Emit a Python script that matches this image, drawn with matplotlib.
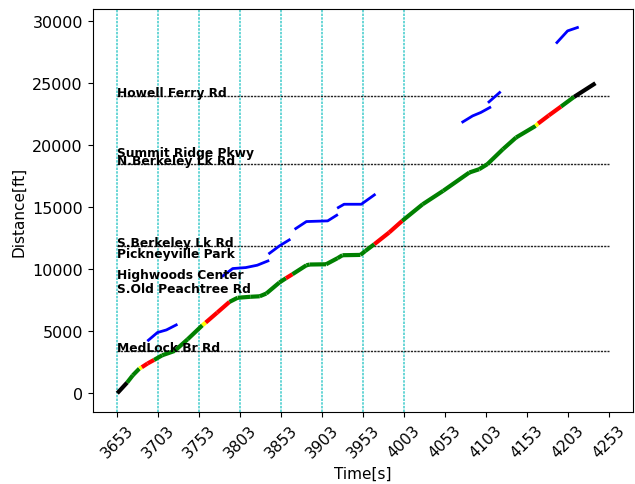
import matplotlib
matplotlib.use("Agg")
import matplotlib.pyplot as plt
import numpy as np

# main vehicle trajectory, with signal state for each piece starting at that point
main_t = [3653, 3665, 3672, 3680, 3683, 3690, 3698, 3708, 3723, 3739, 3757, 3761, 3775,
          3790, 3800, 3816, 3827, 3835, 3851, 3859, 3867, 3884, 3888, 3908, 3922, 3928,
          3950, 3956, 3967, 3985, 4001, 4026, 4051, 4083, 4095, 4105, 4124, 4140, 4164,
          4167, 4180, 4195, 4211, 4237]
main_d = [0, 860, 1450, 1990, 2100, 2400, 2690, 3065, 3410, 4355, 5485, 5700, 6500,
          7365, 7700, 7780, 7820, 8040, 8930, 9275, 9600, 10320, 10380, 10400, 10890, 11130,
          11155, 11475, 12020, 12960, 13900, 15240, 16320, 17800, 18065, 18470, 19680, 20620, 21560,
          21750, 22400, 23120, 23900, 25000]
main_state = ['k', 'g', 'g', 'y', 'r', 'r', 'g', 'g', 'g', 'g', 'y', 'r', 'r',
              'g', 'g', 'g', 'g', 'g', 'g', 'r', 'g', 'g', 'g', 'g', 'g', 'g',
              'g', 'g', 'r', 'r', 'g', 'g', 'g', 'g', 'g', 'g', 'g', 'g', 'y',
              'r', 'r', 'g', 'k', 'k']

# other vehicle traces
other_t = [[3691, 3702, 3713, 3725],
           [3782, 3794, 3810, 3824, 3837],
           [3839, 3851, 3863],
           [3871, 3884, 3910, 3921],
           [3923, 3930, 3951, 3967],
           [4075, 4087, 4097, 4108],
           [4107, 4120],
           [4190, 4203, 4215]]
other_d = [[4275, 4895, 5105, 5510],
           [9460, 10055, 10135, 10325, 10670],
           [11290, 11880, 12365],
           [13280, 13845, 13900, 14355],
           [14975, 15240, 15240, 15995],
           [21880, 22365, 22640, 23040],
           [23495, 24250],
           [28280, 29220, 29490]]

# intersections
stop_names = ["MedLock Br Rd", "S.Old Peachtree Rd", "Highwoods Center", "Pickneyville Park",
              "S.Berkeley Lk Rd", "N.Berkeley Lk Rd", "Summit Ridge Pkwy", "Howell Ferry Rd"]
stop_pos = [3400, 8150, 9270, 10970, 11900, 18500, 19110, 23950]
stop_line = [True, False, False, False, True, True, False, True]

cycle_starts = [3653, 3703, 3753, 3803, 3853, 3903, 3953, 4003]
xticks = np.arange(3653, 4254, 50)

colors = {'k': 'black', 'g': 'green', 'y': 'yellow', 'r': 'red'}

fig = plt.figure(figsize=(6.35, 4.85), dpi=100)
ax = fig.add_axes([0.146, 0.148, 0.851, 0.831])

for c in cycle_starts:
    ax.axvline(c, color='#40cccc', linestyle=(0, (1.6, 0.8)), linewidth=1.1, zorder=1)

for name, pos, line in zip(stop_names, stop_pos, stop_line):
    if line:
        ax.hlines(pos, xticks[0], xticks[-1], colors='#222222', linestyles=[(0, (1.6, 0.8))],
                  linewidth=1, zorder=1)
    ax.text(xticks[0], pos, name, fontsize=8.8, fontweight='bold', zorder=5)

for tt, dd in zip(other_t, other_d):
    ax.plot(tt, dd, color='blue', linewidth=2, zorder=3)

for i in range(len(main_t) - 1):
    ax.plot(main_t[i:i + 2], main_d[i:i + 2], color=colors[main_state[i]],
            linewidth=3, solid_capstyle='butt', zorder=4)

ax.set_xlim(3623, 4283)
ax.set_ylim(-1530, 30970)
ax.set_xticks(xticks)
ax.set_xticklabels([str(x) for x in xticks], rotation=45, fontsize=11)
ax.tick_params(axis='y', labelsize=11.5)
ax.set_xlabel("Time[s]", fontsize=11)
ax.set_ylabel("Distance[ft]", fontsize=11)

fig.savefig("out.png", dpi=100)
